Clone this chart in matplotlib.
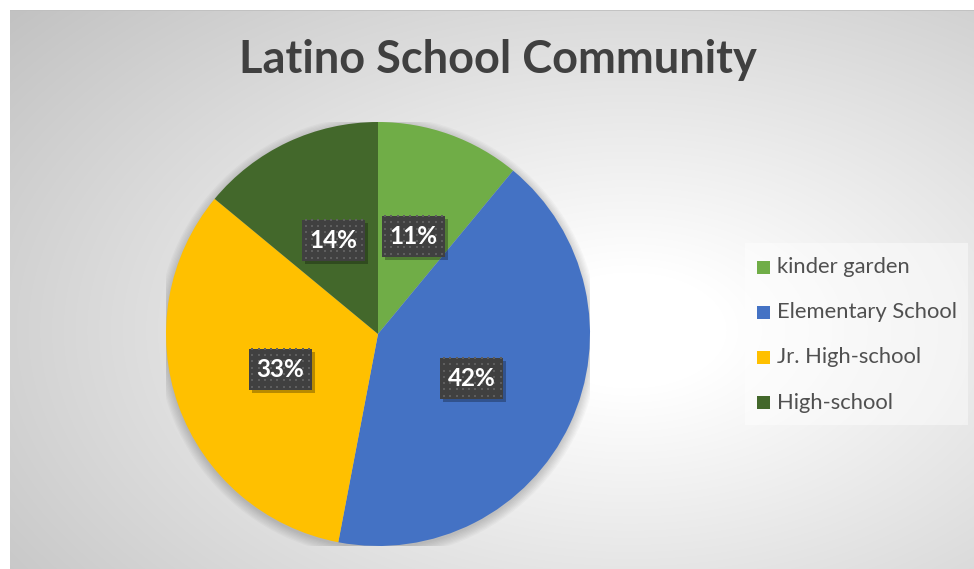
import numpy as np
import matplotlib
matplotlib.use('Agg')
import matplotlib.pyplot as plt
import matplotlib.transforms as mtransforms
from matplotlib.patches import Rectangle, Circle

plt.rcParams['font.family'] = ['Lato', 'DejaVu Sans']

# data
categories = ['kinder garden', 'Elementary School', 'Jr. High-school', 'High-school']
shares = [11, 42, 33, 14]
colors = ['#70AD47', '#4472C4', '#FFC000', '#43682B']
title = 'Latino School Community'

W, H = 974, 569
fig = plt.figure(figsize=(W / 100, H / 100), dpi=100)
fig.patch.set_facecolor('white')

# radial gradient background of the chart area (x 10..974, y 10..569)
x0, y0 = 10, 10
bg = fig.add_axes([x0 / W, 0, 1 - x0 / W, 1 - y0 / H])
bg.set_axis_off()
xx, yy = np.meshgrid(np.arange(x0, W), np.arange(y0, H))
r = np.sqrt(((xx - 630) / 480.0) ** 2 + ((yy - 330) / 290.0) ** 2)
v = 1.0 - 0.24 * np.clip((r - 0.2) / 1.5, 0, 1)
bg.imshow(np.dstack([v, v, v]), aspect='auto', extent=(0, 1, 0, 1), interpolation='bilinear')
bg.set_xlim(0, 1)
bg.set_ylim(0, 1)
bg.plot([0, 1], [1, 1], color='#bfbfbf', lw=1.2)

# pie axes: center (378, 334), radius 212 px
cx, cy, rad = 378, 334, 212
ax = fig.add_axes([(cx - rad) / W, (H - cy - rad) / H, 2 * rad / W, 2 * rad / H])
ax.set_xlim(-1, 1)
ax.set_ylim(-1, 1)
ax.set_axis_off()

# soft shadow under the pie
for k in range(8):
    ax.add_patch(Circle((0.0, -0.012), 1.0 + 0.006 * k, facecolor='black', alpha=0.025,
                        edgecolor='none', zorder=0))

wedges, _ = ax.pie(shares, colors=colors, startangle=90, counterclock=False,
                   radius=1.0, wedgeprops=dict(linewidth=0), frame=False)
for w in wedges:
    w.set_zorder(2)
ax.set_xlim(-1, 1)
ax.set_ylim(-1, 1)

# percentage labels in dark dotted boxes (box size in pixels)
bw, bh = 63, 41
total = float(sum(shares))
start = 90.0
gx = np.arange(3.5, bw, 6.3)
gy = np.arange(3.0, bh, 6.3)
dx, dy = np.meshgrid(gx, gy)
for s in shares:
    span = 360.0 * s / total
    mid = np.deg2rad(start - span / 2)
    start -= span
    lx, ly = 0.49 * np.cos(mid), 0.49 * np.sin(mid)
    # transform: pixel offsets (in inches at dpi 100) relative to the label anchor
    tr = fig.dpi_scale_trans + mtransforms.ScaledTranslation(lx, ly, ax.transData)
    tr_sh = fig.dpi_scale_trans + mtransforms.ScaledTranslation(lx, ly, ax.transData) + \
        mtransforms.Affine2D().translate(3, -3)
    ax.add_patch(Rectangle((-bw / 200, -bh / 200), bw / 100, bh / 100, transform=tr_sh,
                           facecolor='black', alpha=0.28, edgecolor='none', zorder=3))
    ax.add_patch(Rectangle((-bw / 200, -bh / 200), bw / 100, bh / 100, transform=tr,
                           facecolor='#404040', edgecolor='none', zorder=3.1))
    ax.scatter((dx.ravel() - bw / 2) / 100, (dy.ravel() - bh / 2) / 100, transform=tr,
               marker='s', s=2.2, color='#5e5e5e', linewidths=0, zorder=3.2, clip_on=False)
    ax.text(lx, ly, '%d%%' % s, ha='center', va='center', fontsize=17.5, fontweight='bold',
            color='white', zorder=4)

# legend box
lg_ax = fig.add_axes([0, 0, 1, 1], facecolor='none')
lg_ax.set_axis_off()
lg_ax.set_xlim(0, W)
lg_ax.set_ylim(H, 0)
lg_ax.add_patch(Rectangle((745, 243), 223, 182, facecolor='white', alpha=0.45, edgecolor='none'))
for i, (lab, c) in enumerate(zip(categories, colors)):
    yy_ = 267 + i * 45.2
    lg_ax.add_patch(Rectangle((757, yy_ - 6.5), 13, 13, facecolor=c, edgecolor='none'))
    lg_ax.text(777, yy_, lab, ha='left', va='center', fontsize=15.8, color='#505050')

# title
fig.text(498 / W, 1 - 60 / H, title, ha='center', va='center', fontsize=32.5,
         fontweight='bold', color='#404040')

fig.savefig('out.png', dpi=100)
